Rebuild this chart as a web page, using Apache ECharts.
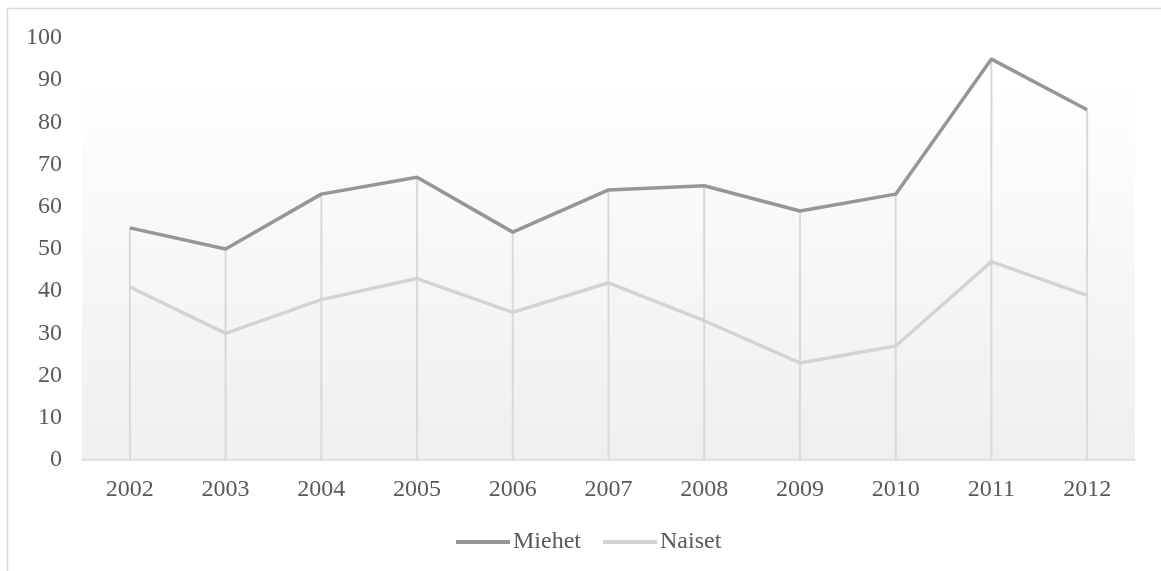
<!DOCTYPE html>
<html>
<head>
<meta charset="utf-8">
<script src="https://cdn.jsdelivr.net/npm/echarts@6/dist/echarts.min.js"></script>
<style>
  html, body { margin: 0; padding: 0; background: #fff; }
  #chart { width: 1161px; height: 571px; }
</style>
</head>
<body>
<div id="chart"></div>
<script>
// vuodet ja arvot
var years = ['2002', '2003', '2004', '2005', '2006', '2007', '2008', '2009', '2010', '2011', '2012'];
var miehet = [55, 50, 63, 67, 54, 64, 65, 59, 63, 95, 83];
var naiset = [41, 30, 38, 43, 35, 42, 33, 23, 27, 47, 39];
var yTicks = [0, 10, 20, 30, 40, 50, 60, 70, 80, 90, 100];

// pudotusviivat ylimmästä pisteestä akseliin
var dropTop = years.map(function (y, i) { return Math.max(miehet[i], naiset[i]); });

var font = '"Liberation Serif", "Times New Roman", serif';

var chart = echarts.init(document.getElementById('chart'));

var option = {
    animation: false,
    backgroundColor: '#fff',
    graphic: [
        {
            type: 'rect', z: -10, silent: true,
            shape: { x: 7.5, y: 8.5, width: 1200, height: 600 },
            style: { fill: '#fff', stroke: '#d9d9d9', lineWidth: 1.5 }
        },
        {
            type: 'rect', z: -9, silent: true,
            shape: { x: 82, y: 93, width: 1053, height: 367 },
            style: {
                fill: new echarts.graphic.LinearGradient(0, 0, 0, 1, [
                    { offset: 0, color: '#fefefe' },
                    { offset: 1, color: '#efefef' }
                ])
            }
        }
    ],
    grid: { left: 82, right: 26, top: 38, bottom: 111 },
    legend: {
        data: [
            { name: 'Miehet', icon: 'rect' },
            { name: 'Naiset', icon: 'rect' }
        ],
        bottom: 12,
        left: 451,
        itemWidth: 54,
        itemHeight: 4,
        itemGap: 22,
        textStyle: { fontFamily: font, fontSize: 24, color: '#595959', padding: [0, 0, 0, -2] }
    },
    xAxis: {
        type: 'category',
        data: years,
        boundaryGap: true,
        axisLine: { lineStyle: { color: '#d9d9d9', width: 1.5 } },
        axisTick: { show: false },
        splitLine: { show: false },
        axisLabel: { fontFamily: font, fontSize: 24, color: '#595959', margin: 18 }
    },
    yAxis: {
        type: 'value',
        min: yTicks[0],
        max: yTicks[yTicks.length - 1],
        interval: 10,
        axisLine: { show: false },
        axisTick: { show: false },
        splitLine: { show: false },
        axisLabel: { fontFamily: font, fontSize: 24, color: '#595959', margin: 20 }
    },
    series: [
        {
            name: 'drop',
            type: 'bar',
            data: dropTop,
            barWidth: 2,
            silent: true,
            itemStyle: { color: '#d9d9d9' },
            z: 1
        },
        {
            name: 'Miehet',
            type: 'line',
            data: miehet,
            symbol: 'none',
            lineStyle: { color: '#969696', width: 3.5 },
            itemStyle: { color: '#969696' },
            z: 3
        },
        {
            name: 'Naiset',
            type: 'line',
            data: naiset,
            symbol: 'none',
            lineStyle: { color: '#d3d3d3', width: 3.5 },
            itemStyle: { color: '#d3d3d3' },
            z: 2
        }
    ]
};

chart.setOption(option);
</script>
</body>
</html>
